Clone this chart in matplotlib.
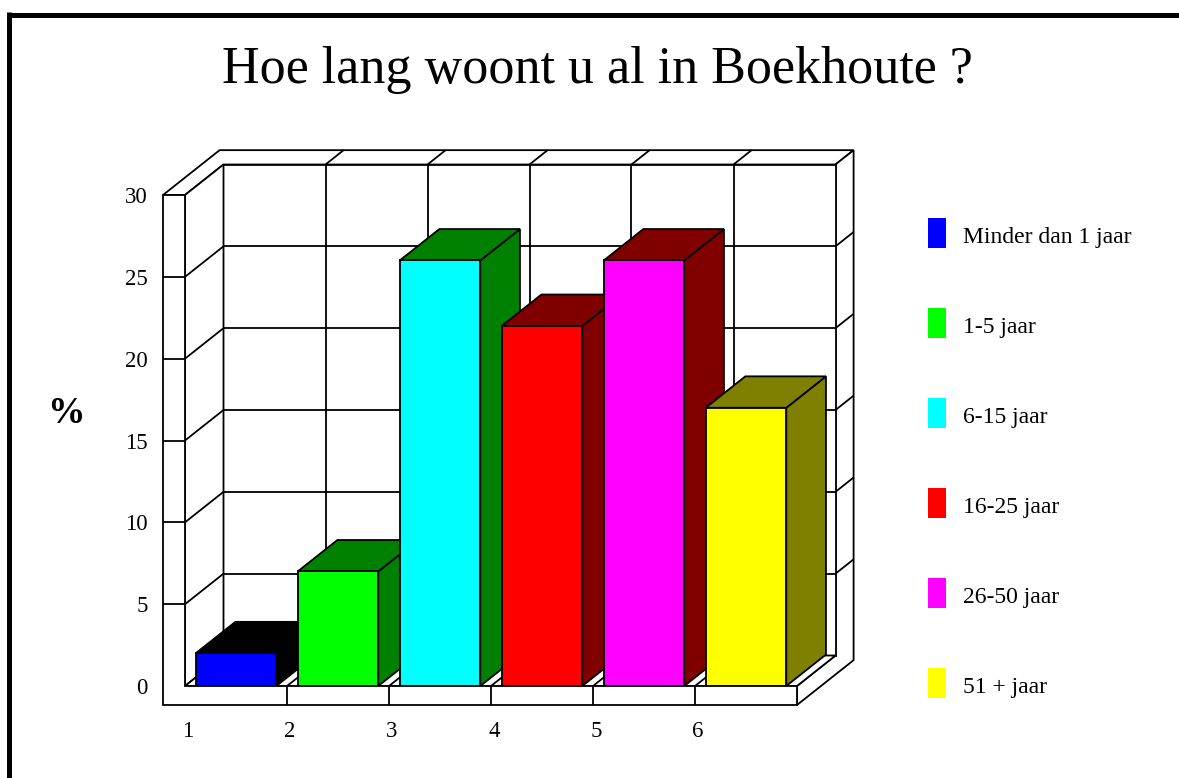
import matplotlib
matplotlib.use('Agg')
import matplotlib.pyplot as plt
from matplotlib.patches import Polygon, Rectangle
from matplotlib.lines import Line2D
from matplotlib.transforms import offset_copy

# ---------------- data ----------------
categories = ["Minder dan 1 jaar", "1-5 jaar", "6-15 jaar", "16-25 jaar", "26-50 jaar", "51 + jaar"]
values = [2, 7, 26, 22, 26, 17]
x_labels = ["1", "2", "3", "4", "5", "6"]
y_ticks = [0, 5, 10, 15, 20, 25, 30]
front_colors = ["#0000ff", "#00ff00", "#00ffff", "#ff0000", "#ff00ff", "#ffff00"]
shade_colors = ["#000000", "#008000", "#008000", "#800000", "#800000", "#808000"]
title = "Hoe lang woont u al in Boekhoute ?"
y_label = "%"

# ---------------- layout ----------------
W, H = 1179, 778
SERIF = ["Liberation Serif", "DejaVu Serif"]

fig = plt.figure(figsize=(W / 100, H / 100), dpi=100)
fig.patch.set_facecolor('white')

ax_l, ax_r, ax_t, ax_b = 185, 797, 195, 686
ax = fig.add_axes([ax_l / W, 1 - ax_b / H, (ax_r - ax_l) / W, (ax_b - ax_t) / H])
n = len(values)
ymax = y_ticks[-1]
ax.set_xlim(0.5, n + 0.5)
ax.set_ylim(0, ymax)
ax.axis('off')

px_per_x = (ax_r - ax_l) / n
px_per_y = (ax_b - ax_t) / ymax
DX = 38.5 / px_per_x
DY = 30.5 / px_per_y
BACK = 1.47
BAR_DEPTH = 1.03
WALL = 22 / px_per_x
FLOOR = 19 / px_per_y
BW = 0.79
x0, x1 = 0.5, n + 0.5
LW = 1.3


def P(x, y, z):
    return (x + z * DX, y + z * DY)


def poly(pts, fc, zo, lw=LW):
    ax.add_patch(Polygon([P(*p) for p in pts], closed=True, facecolor=fc,
                         edgecolor='black', linewidth=lw, joinstyle='miter',
                         clip_on=False, zorder=zo))


def line(a, b, zo, lw=LW):
    (xa, ya), (xb, yb) = P(*a), P(*b)
    ax.add_line(Line2D([xa, xb], [ya, yb], color='black', linewidth=lw,
                       clip_on=False, zorder=zo, solid_capstyle='butt'))


# top face of left + back wall
poly([(x0 - WALL, ymax, 0), (x0, ymax, 0), (x0, ymax, 1), (x1, ymax, 1),
      (x1, ymax, BACK), (x0 - WALL, ymax, BACK)], 'white', 1)
# right end face
poly([(x1, ymax, 1), (x1, ymax, BACK), (x1, -FLOOR, BACK), (x1, -FLOOR, 0),
      (x1, 0, 0), (x1, 0, 1)], 'white', 1)
# back wall
poly([(x0, 0, 1), (x1, 0, 1), (x1, ymax, 1), (x0, ymax, 1)], 'white', 1)
# left inner face
poly([(x0, 0, 0), (x0, ymax, 0), (x0, ymax, 1), (x0, 0, 1)], 'white', 1)
# floor
poly([(x0, 0, 0), (x1, 0, 0), (x1, 0, 1), (x0, 0, 1)], 'white', 1)

for t in y_ticks[1:-1]:
    line((x0, t, 1), (x1, t, 1), 2)          # back wall grid
    line((x0, t, 0), (x0, t, 1), 2)          # left wall diagonals
    line((x1, t, 1), (x1, t, BACK), 2)       # right end diagonals
for k in range(1, n):
    xb = x0 + k
    line((xb, 0, 1), (xb, ymax, 1), 2)       # back wall verticals
    line((xb, ymax, 1), (xb, ymax, BACK), 2) # top slab diagonals
    line((xb, 0, 0), (xb, 0, 1), 2)          # floor diagonals

# ---------------- bars ----------------
for i, v in enumerate(values):
    c = i + 1
    l, r = c - BW / 2, c + BW / 2
    d = BAR_DEPTH
    zo = 5
    poly([(r, 0, 0), (r, 0, d), (r, v, d), (r, v, 0)], shade_colors[i], zo)
    poly([(l, v, 0), (r, v, 0), (r, v, d), (l, v, d)], shade_colors[i], zo)
    poly([(l, 0, 0), (r, 0, 0), (r, v, 0), (l, v, 0)], front_colors[i], zo)

# front L (left panel + floor plank)
poly([(x0 - WALL, ymax, 0), (x0, ymax, 0), (x0, 0, 0), (x1, 0, 0),
      (x1, -FLOOR, 0), (x0 - WALL, -FLOOR, 0)], 'white', 20)
for t in y_ticks[1:-1]:
    line((x0 - WALL, t, 0), (x0, t, 0), 21)
for k in range(1, n):
    line((x0 + k, -FLOOR, 0), (x0 + k, 0, 0), 21)

# ---------------- tick labels ----------------
ytr = offset_copy(ax.transData, fig=fig, x=-15, y=-8, units='dots')
for t in y_ticks:
    ax.text(x0 - WALL, t, str(t), transform=ytr, ha='right', va='baseline',
            fontsize=16.5, family=SERIF, color='black', zorder=30)
xtr = offset_copy(ax.transData, fig=fig, x=3, y=-51, units='dots')
for k, lab in enumerate(x_labels):
    ax.text(x0 + k, 0, lab, transform=xtr, ha='center', va='baseline',
            fontsize=16.5, family=SERIF, color='black', zorder=30)

# ---------------- title / axis label ----------------
fig.text(597 / W, 1 - 83 / H, title, ha='center', va='baseline',
         fontsize=37.5, family=SERIF, color='black')
fig.text(66 / W, 1 - 423 / H, y_label, ha='center', va='baseline',
         fontsize=27, family=SERIF, fontweight='bold', color='black')

# ---------------- legend ----------------
for i, name in enumerate(categories):
    cy = 233 + 90 * i
    fig.add_artist(Rectangle((928 / W, 1 - (cy + 15) / H), 18 / W, 30 / H,
                             transform=fig.transFigure, facecolor=front_colors[i],
                             edgecolor='none'))
    fig.text(963 / W, 1 - (cy + 10) / H, name, ha='left', va='baseline',
             fontsize=17, family=SERIF, color='black')

# ---------------- border ----------------
fig.add_artist(Line2D([7 / W, 1.0], [1 - 14.5 / H, 1 - 14.5 / H],
                      transform=fig.transFigure, color='black', linewidth=3.6,
                      solid_capstyle='butt'))
fig.add_artist(Line2D([9.5 / W, 9.5 / W], [0, 1 - 12 / H],
                      transform=fig.transFigure, color='black', linewidth=3.6,
                      solid_capstyle='butt'))

fig.savefig('out.png', dpi=100, facecolor='white')
